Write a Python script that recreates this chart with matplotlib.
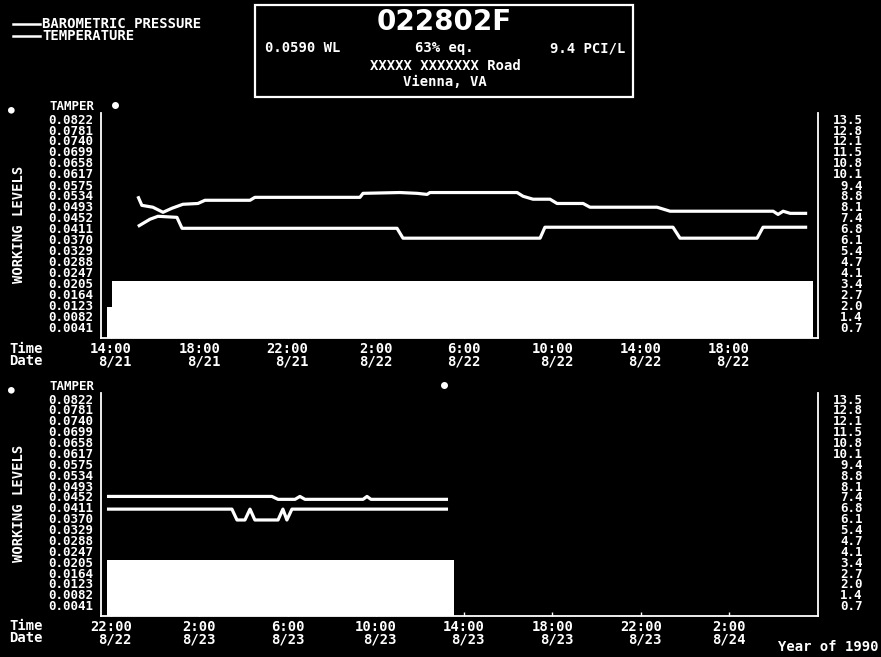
import matplotlib
matplotlib.use("Agg")
import matplotlib.pyplot as plt
from matplotlib.lines import Line2D
from matplotlib.patches import Rectangle

W, H = 881, 657
MONO = "DejaVu Sans Mono"

# y scale (working levels on the left, pCi/L on the right, same rows)
wl_labels = ["0.0822", "0.0781", "0.0740", "0.0699", "0.0658", "0.0617", "0.0575",
             "0.0534", "0.0493", "0.0452", "0.0411", "0.0370", "0.0329", "0.0288",
             "0.0247", "0.0205", "0.0164", "0.0123", "0.0082", "0.0041"]
pcl_labels = ["13.5", "12.8", "12.1", "11.5", "10.8", "10.1", "9.4", "8.8", "8.1", "7.4",
              "6.8", "6.1", "5.4", "4.7", "4.1", "3.4", "2.7", "2.0", "1.4", "0.7"]
wl_ticks = [float(s) for s in wl_labels]

# time axis: hours after first tick
tick_hours = [0, 4, 8, 12, 16, 20, 24, 28]
top_times = ["14:00", "18:00", "22:00", "2:00", "6:00", "10:00", "14:00", "18:00"]
top_dates = ["8/21", "8/21", "8/21", "8/22", "8/22", "8/22", "8/22", "8/22"]
bot_times = ["22:00", "2:00", "6:00", "10:00", "14:00", "18:00", "22:00", "2:00"]
bot_dates = ["8/22", "8/23", "8/23", "8/23", "8/23", "8/23", "8/23", "8/24"]

# radon (WL) bars
top_bar_t = [-0.18, 0.05, 31.81]
top_bar_wl = [0.0116, 0.0212, 0.0212]
bot_bar_t = [-0.18, 15.54]
bot_bar_wl = [0.0210, 0.0210]

# barometric pressure / temperature traces (plotted on the WL scale)
top_upper_t = [1.22, 1.40, 1.90, 2.36, 2.76, 3.26, 3.94, 4.26, 6.30, 6.52, 11.28, 11.42,
               13.09, 13.87, 14.32, 14.45, 18.40, 18.67, 19.12, 19.89, 20.21, 21.39,
               21.70, 24.74, 25.33, 30.00, 30.22, 30.45, 30.77, 31.54]
top_upper = [0.0531, 0.0497, 0.0490, 0.0471, 0.0486, 0.0501, 0.0504, 0.0516, 0.0516,
             0.0527, 0.0527, 0.0542, 0.0545, 0.0542, 0.0538, 0.0545, 0.0545, 0.0531,
             0.0520, 0.0520, 0.0504, 0.0504, 0.0490, 0.0490, 0.0475, 0.0475, 0.0463,
             0.0475, 0.0467, 0.0467]
top_lower_t = [1.22, 1.77, 2.13, 2.99, 3.22, 12.96, 13.23, 19.44, 19.66, 25.46, 25.78,
               29.27, 29.54, 31.54]
top_lower = [0.0418, 0.0445, 0.0456, 0.0452, 0.0411, 0.0411, 0.0374, 0.0374, 0.0415,
             0.0415, 0.0374, 0.0374, 0.0415, 0.0415]
bot_upper_t = [-0.18, 7.29, 7.57, 8.34, 8.56, 8.79, 11.42, 11.60, 11.78, 15.27]
bot_upper = [0.0452, 0.0452, 0.0441, 0.0441, 0.0452, 0.0441, 0.0441, 0.0452, 0.0441, 0.0441]
bot_lower_t = [-0.18, 5.48, 5.71, 6.07, 6.30, 6.52, 7.57, 7.79, 7.97, 8.20, 15.27]
bot_lower = [0.0404, 0.0404, 0.0363, 0.0363, 0.0404, 0.0363, 0.0363, 0.0404, 0.0363,
             0.0404, 0.0404]

# tamper events
top_tamper_t = [0.18]
bot_tamper_t = [15.09]
TAMPER_ROW = 0.0874

XLIM = (-0.45, 32.03)
YLIM = (0, 0.0843)

plt.rcParams["font.family"] = MONO
plt.rcParams["font.weight"] = "bold"

fig = plt.figure(figsize=(W / 100, H / 100), dpi=100, facecolor="black")


def fx(px):
    return px / W


def fy(py):
    return 1 - py / H


def panel(top_px, bot_px, bar_t, bar_wl, up_t, up, lo_t, lo, tamper_t, times, dates):
    ax = fig.add_axes([fx(101), fy(bot_px), fx(818) - fx(101), fy(top_px) - fy(bot_px)])
    ax.set_facecolor("black")
    ax.fill_between(bar_t, 0, bar_wl, step="post", color="white", lw=0)
    ax.plot(up_t, up, color="white", lw=2.3, solid_capstyle="butt")
    ax.plot(lo_t, lo, color="white", lw=2.3, solid_capstyle="butt")
    ax.plot(tamper_t, [TAMPER_ROW] * len(tamper_t), "o", color="white", ms=4, clip_on=False)
    ax.set_xlim(*XLIM)
    ax.set_ylim(*YLIM)
    for s in ["left", "right", "bottom"]:
        ax.spines[s].set_color("white")
        ax.spines[s].set_linewidth(1.3)
    ax.spines["top"].set_visible(False)
    ax.set_yticks(wl_ticks, wl_labels)
    ax.tick_params(axis="y", length=0, pad=5.5, colors="white", labelsize=9)
    ax.set_xticks(tick_hours, [f"{t}\n{d}" for t, d in zip(times, dates)])
    ax.tick_params(axis="x", direction="in", length=3, width=1, colors="white",
                   labelsize=10, pad=3)
    for lab in ax.get_xticklabels():
        lab.set_multialignment("right")
        lab.set_linespacing(0.85)

    ax2 = ax.twinx()
    ax2.set_ylim(*YLIM)
    ax2.set_yticks(wl_ticks, pcl_labels)
    ax2.tick_params(axis="y", length=0, pad=32, colors="white", labelsize=9)
    for lab in ax2.get_yticklabels():
        lab.set_horizontalalignment("right")
    for s in ax2.spines.values():
        s.set_visible(False)
    return ax


panel(113, 338, top_bar_t, top_bar_wl, top_upper_t, top_upper, top_lower_t, top_lower,
      top_tamper_t, top_times, top_dates)
panel(393, 616, bot_bar_t, bot_bar_wl, bot_upper_t, bot_upper, bot_lower_t, bot_lower,
      bot_tamper_t, bot_times, bot_dates)

txt = dict(color="white", fontsize=10, fontweight="bold", family=MONO)

# panel side texts
for tamper_y, label_y, time_y in [(107, 224, 355), (387, 503, 632)]:
    fig.text(fx(94), fy(tamper_y), "TAMPER", ha="right", va="center",
             color="white", fontsize=9, fontweight="bold", family=MONO)
    fig.text(fx(11), fy(tamper_y + 2), "\u25cf", ha="center", va="center",
             color="white", fontsize=8)
    fig.text(fx(19), fy(label_y), "WORKING LEVELS", rotation=90, ha="center",
             va="center", **txt)
    fig.text(fx(9), fy(time_y), "Time\nDate", ha="left", va="center",
             linespacing=0.85, **txt)

fig.text(fx(879), fy(647), "Year of 1990", ha="right", va="center", **txt)

# legend
for y, name in [(24, "BAROMETRIC PRESSURE"), (36, "TEMPERATURE")]:
    fig.add_artist(Line2D([fx(13), fx(40)], [fy(y), fy(y)], color="white", lw=1.8,
                          transform=fig.transFigure))
    fig.text(fx(42), fy(y), name, ha="left", va="center", **txt)

# info box
fig.add_artist(Rectangle((fx(255), fy(97)), fx(633) - fx(255), fy(5) - fy(97),
                         transform=fig.transFigure, fill=False, edgecolor="white", lw=1.6))
fig.text(fx(444), fy(22), "022802F", ha="center", va="center", color="white",
         fontsize=20, fontweight="bold", family="DejaVu Sans")
fig.text(fx(265), fy(48), "0.0590 WL", ha="left", va="center", **txt)
fig.text(fx(444), fy(48), "63% eq.", ha="center", va="center", **txt)
fig.text(fx(625), fy(48), "9.4 PCI/L", ha="right", va="center", **txt)
fig.text(fx(445), fy(66), "XXXXX XXXXXXX Road", ha="center", va="center", **txt)
fig.text(fx(445), fy(82), "Vienna, VA", ha="center", va="center", **txt)

fig.savefig("out.png", dpi=100, facecolor="black")
